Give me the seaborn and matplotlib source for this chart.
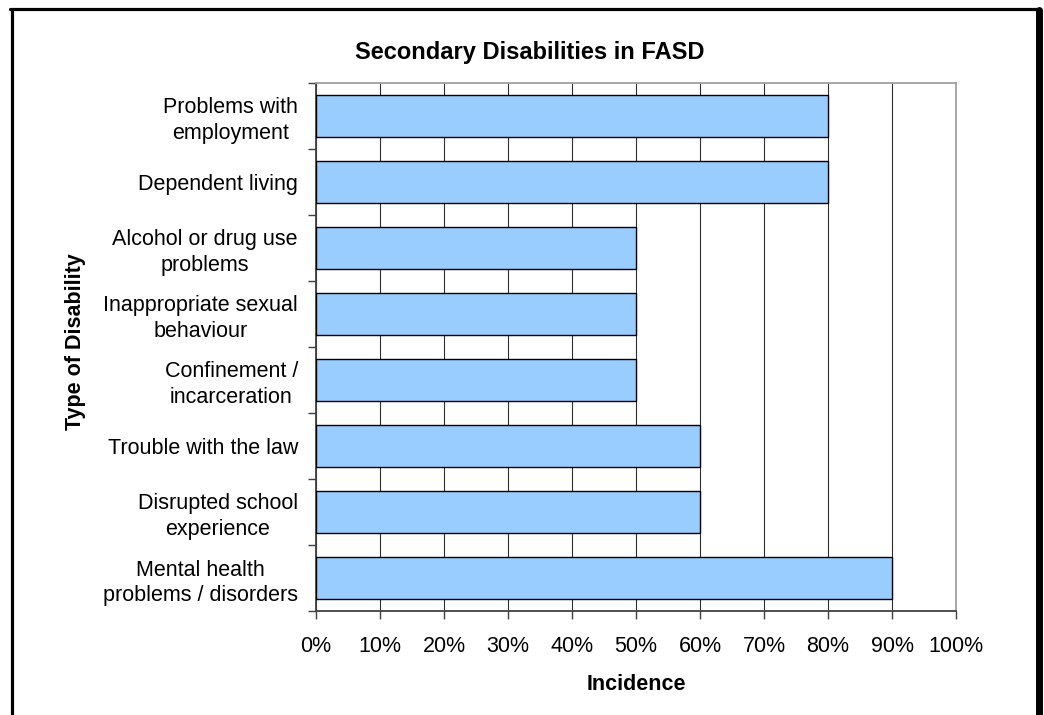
import matplotlib
matplotlib.use("Agg")
import matplotlib.pyplot as plt
import seaborn as sns
import pandas as pd
from matplotlib.lines import Line2D
from matplotlib.ticker import FixedLocator

categories = [
    "Problems with\nemployment",
    "Dependent living",
    "Alcohol or drug use\nproblems",
    "Inappropriate sexual\nbehaviour",
    "Confinement /\nincarceration",
    "Trouble with the law",
    "Disrupted school\nexperience",
    "Mental health\nproblems / disorders",
]
incidence = [80, 80, 50, 50, 50, 60, 60, 90]
x_ticks = [0, 10, 20, 30, 40, 50, 60, 70, 80, 90, 100]
x_tick_labels = [f"{v}%" for v in x_ticks]

sns.set_theme(style="white")
plt.rcParams['font.family'] = ['Liberation Sans', 'DejaVu Sans']
plt.rcParams['text.color'] = 'black'
plt.rcParams['xtick.color'] = 'black'
plt.rcParams['ytick.color'] = 'black'
plt.rcParams['axes.labelcolor'] = 'black'

W, H = 1044, 715
FS = 15.5
fig = plt.figure(figsize=(W / 100, H / 100), dpi=100)
ax = fig.add_axes([316 / W, 1 - 611 / H, (956 - 316) / W, (611 - 83) / H])

df = pd.DataFrame({"cat": categories, "val": incidence})
sns.barplot(data=df, x="val", y="cat", orient="h", color="#99CCFF",
            saturation=1, edgecolor="black", linewidth=1.0, width=0.65, ax=ax, zorder=3)

ax.set_xlim(0, 100)
ax.set_ylim(len(categories) - 0.5, -0.5)
ax.xaxis.set_major_locator(FixedLocator(x_ticks))
ax.set_xticklabels(x_tick_labels, fontsize=FS)
ax.xaxis.grid(True, color="#303030", linewidth=0.8, zorder=0)
ax.yaxis.grid(False)
ax.set_axisbelow(True)

ax.set_yticks(range(len(categories)))
ax.set_yticklabels(categories, fontsize=FS, multialignment="center", linespacing=1.3)
ax.tick_params(axis="y", which="major", length=0, pad=13)
ax.yaxis.set_minor_locator(FixedLocator([i - 0.5 for i in range(len(categories) + 1)]))
ax.tick_params(axis="y", which="minor", length=6, width=1, color="#404040", left=True)
ax.tick_params(axis="x", which="major", length=6, width=1, color="#404040", bottom=True, pad=12)

for s in ["left", "bottom"]:
    ax.spines[s].set_color("#404040")
    ax.spines[s].set_linewidth(1.3)
for s in ["top", "right"]:
    ax.spines[s].set_color("#a0a0a0")
    ax.spines[s].set_linewidth(1.3)

ax.set_xlabel("Incidence", fontsize=FS, fontweight="bold")
ax.xaxis.set_label_coords(0.5, 1 - (685 - 83) / (611 - 83))
ax.xaxis.label.set_va("center")
ax.set_ylabel("Type of Disability", fontsize=FS, fontweight="bold")
ax.yaxis.set_label_coords((75 - 316) / (956 - 316), 0.511)
ax.yaxis.label.set_va("center")
fig.text(530 / W, 1 - 52 / H, "Secondary Disabilities in FASD", fontsize=17,
         fontweight="bold", ha="center", va="center")

# outer chart border (left, top, right shadow)
fig.add_artist(Line2D([11.5 / W, 11.5 / W], [0, 1 - 8.5 / H], color="black", lw=2.3,
                      transform=fig.transFigure))
fig.add_artist(Line2D([10 / W, 1040 / W], [1 - 8.5 / H, 1 - 8.5 / H], color="black", lw=2.3,
                      transform=fig.transFigure))
fig.add_artist(Line2D([1038.5 / W, 1038.5 / W], [0, 1 - 10 / H], color="black", lw=5,
                      transform=fig.transFigure))

fig.savefig("out.png", dpi=100)
